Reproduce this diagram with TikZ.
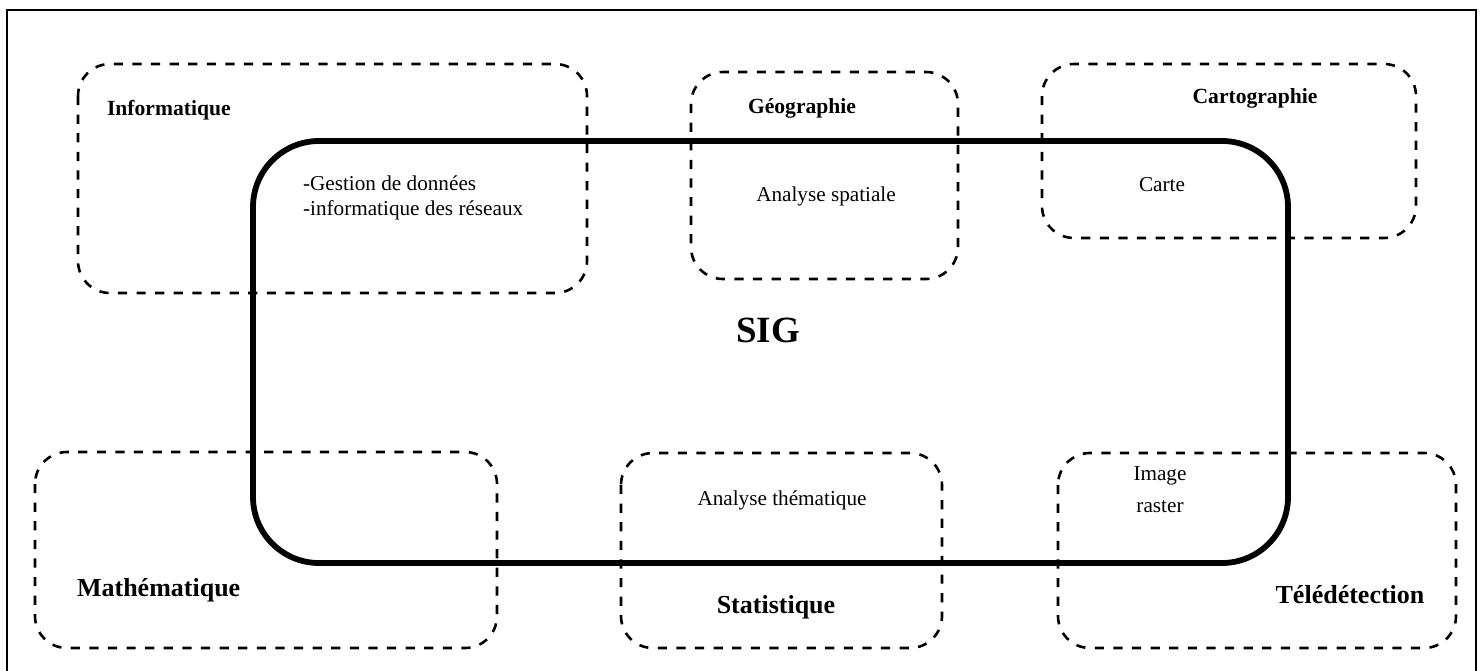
\documentclass[tikz,border=0pt]{standalone}
\usepackage{fontspec}
\setmainfont{Liberation Serif}
\usepackage{tikz}

\tikzset{
  dashbox/.style={line width=1.3pt,dash pattern=on 4.6pt off 4.7pt,rounded corners=16pt},
  sigbox/.style={line width=2.9pt,rounded corners=33pt},
  small/.style={font=\fontsize{10.6}{12.5}\selectfont},
  smallbf/.style={font=\fontsize{10.8}{13}\selectfont\bfseries},
  bigbf/.style={font=\fontsize{13}{15}\selectfont\bfseries}
}

\begin{document}
\begin{tikzpicture}[x=0.5pt,y=-0.5pt]
\useasboundingbox (0,0) rectangle (1483,670);
\draw[line width=0.9pt] (7,675) -- (7,10) -- (1476,10) -- (1476,675);
% domaines
\foreach \a/\b/\c/\d in {78/64/587/293,691/72/958/279,1042/64/1416/238,35/452/497/648,621/453/942/648,1058/453/1456/648}
  \draw[dashbox] (\a,\b) rectangle (\c,\d);
% SIG
\draw[sigbox] (253,141) rectangle (1288,563);
\node[font=\fontsize{18.5}{20}\selectfont\bfseries] (sig) at (768,330) {SIG};
% textes
\node[smallbf,anchor=west] (info) at (100,110) {Informatique};
\node[small,anchor=west,align=left] (gest) at (296,198) {-Gestion de données\\-informatique des réseaux};
\node[smallbf] (geo) at (802,108) {Géographie};
\node[small] (spat) at (826,196) {Analyse spatiale};
\node[smallbf] (carto) at (1255,98) {Cartographie};
\node[small] (carte) at (1162,185) {Carte};
\node[small] (them) at (782,500) {Analyse thématique};
\node[small,align=center,font=\fontsize{10.6}{16}\selectfont] (raster) at (1160,490) {Image\\raster};
\node[bigbf,anchor=west] (math) at (70,590) {Mathématique};
\node[bigbf] (stat) at (776,607) {Statistique};
\node[bigbf] (tele) at (1350,595) {Télédétection};
\end{tikzpicture}
\end{document}
